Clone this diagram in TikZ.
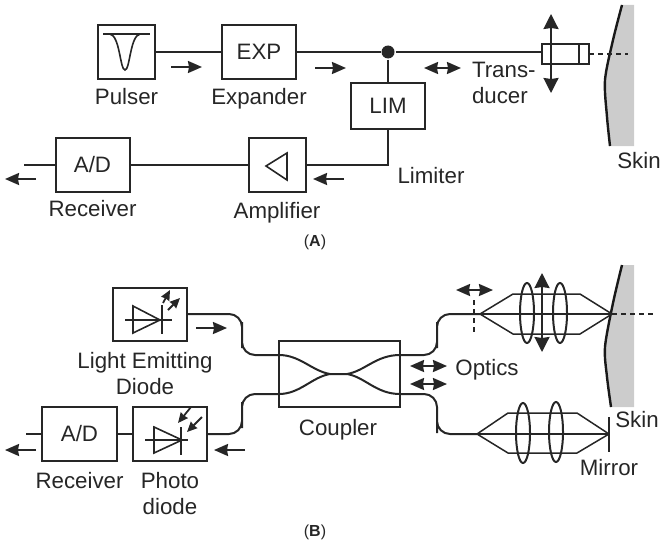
\documentclass[tikz,border=0pt]{standalone}
\usepackage{fontspec}
\setmainfont{Liberation Sans}
\usepackage{xcolor}
\usepackage{tikz}
\usetikzlibrary{arrows.meta,positioning,calc,shapes.geometric}

\begin{document}
\begin{tikzpicture}[
  x=1pt,y=-1pt,
  line width=2pt,
  color=black!85,
  font=\fontsize{22.3}{26}\selectfont,
  lab/.style={align=center,inner sep=0pt,outer sep=0pt},
  box/.style={draw,inner sep=0pt,outer sep=0pt,align=center,minimum width=74pt,minimum height=53pt},
  sbox/.style={box,minimum width=57pt},
  arr/.style={-{Stealth[length=14pt,width=12pt,inset=1pt]},line width=2pt},
  darr/.style={{Stealth[length=14pt,width=12pt,inset=1pt]}-{Stealth[length=14pt,width=12pt,inset=1pt]},line width=2pt},
  bigarr/.style={{Stealth[length=15pt,width=15pt,inset=1pt]}-{Stealth[length=15pt,width=15pt,inset=1pt]},line width=2pt},
  tinyarr/.style={-{Stealth[length=10pt,width=9pt,inset=0.5pt]},line width=1.8pt},
  fibre/.style={rounded corners=13pt},
  ray/.style={line width=1.5pt},
  lens/.style={draw,ellipse,inner sep=0pt,outer sep=0pt,minimum width=14pt,minimum height=60pt},
  skinfill/.style={fill=black!20,draw=none},
  skinline/.style={line width=2.4pt,black!90},
  dots/.style={dash pattern=on 5pt off 4pt,line width=1.5pt}
]
\useasboundingbox (0,0) rectangle (660,543);

% panel A
\node[sbox] (pulser) at (126.5,52) {};
\node[box] (expbox) at (259,52) {EXP};
\node[box,minimum height=46pt] (lim) at (388,106) {LIM};
\node[sbox,minimum height=54pt] (amp) at (277,165) {};
\node[box,minimum height=54pt] (adA) at (92.5,165) {A/D};
\node[fill,circle,inner sep=0pt,minimum size=13pt] (junc) at (388,52) {};
\node[draw,inner sep=0pt,outer sep=0pt,minimum width=47pt,minimum height=20pt] (trans) at (565.5,54) {};
\coordinate (tin) at (542,52);
\coordinate (adAend) at (24,165);
\coordinate (limturn) at (388,165);
\coordinate (tipA) at (628,54);

\node[lab,below=10pt of pulser] {Pulser};
\node[lab,below=10pt of expbox] {Expander};
\node[lab,below=8pt of adA] {Receiver};
\node[lab,below=10pt of amp] {Amplifier};
\node[lab,align=left,anchor=north west] (transtxt) at (472,62) {Trans-\\ducer};
\node[lab] (limtxt) at (431,176) {Limiter};
\node[lab] (skinA) at (639,161) {Skin};
\node[lab,font=\fontsize{16}{20}\selectfont] (capA) at (315,242) {(\textbf{A})};

\draw (pulser) -- (expbox);
\draw (expbox) -- (junc) -- (tin);
\draw (junc) -- (lim);
\draw (lim) -- (limturn) -- (amp);
\draw (amp) -- (adA);
\draw (adA) -- (adAend);
\draw[line width=1.6pt] (103,34) -- (150,34);
\draw[line width=1.6pt] (110,34) .. controls (120,36) and (120,70) .. (125,70) .. controls (130,70) and (130,36) .. (140,34);
\draw[line width=1.6pt] (266,166) -- (287,153) -- (287,180) -- cycle;
\draw (579,44) -- (579,64);
\coordinate (tup) at (551,14);
\coordinate (tdn) at (551,93);
\draw[bigarr] (tup) -- (tdn);

\fill[skinfill] (622,5) -- (634,5) -- (634,146) -- (609,146) -- (607,117) -- (605,80) -- (613,40) -- cycle;
\draw[skinline] plot[smooth] coordinates {(622,5) (613,40) (605,80) (607,117) (610,146)};
\draw[dots] (trans.east) -- (tipA);

\coordinate (f1) at (171,67); \coordinate (f2) at (202,67);
\coordinate (f3) at (315,68); \coordinate (f4) at (346,68);
\coordinate (f5) at (424,68); \coordinate (f6) at (461,68);
\coordinate (f7) at (36,179); \coordinate (f8) at (5,179);
\coordinate (f9) at (344,179); \coordinate (f10) at (313,179);
\draw[arr] (f1) -- (f2);
\draw[arr] (f3) -- (f4);
\draw[darr] (f5) -- (f6);
\draw[arr] (f7) -- (f8);
\draw[arr] (f9) -- (f10);

% panel B
\node[box] (led) at (150,314) {};
\node[box,minimum width=121pt,minimum height=66pt] (coupler) at (339.5,374) {};
\node[box,minimum width=75pt,minimum height=54pt] (adB) at (79.5,434) {A/D};
\node[box,minimum height=54pt] (photo) at (170,434) {};
\coordinate (adBend) at (26,434);

\node[lab] (ledtxt) at (145,374) {Light Emitting\\Diode};
\node[lab] (coupltxt) at (338,430) {Coupler};
\node[lab,below=11pt of adB] {Receiver};
\node[lab,below=11pt of photo] {Photo\\diode};
\node[lab] (opttxt) at (487,370) {Optics};
\node[lab] (skinB) at (637,420) {Skin};
\node[lab] (mirrtxt) at (609,468) {Mirror};
\node[lab,font=\fontsize{16}{20}\selectfont] (capB) at (315,532) {(\textbf{B})};

\draw (adB) -- (adBend);
\draw (adB) -- (photo);

% diodes
\draw[line width=1.6pt] (133,306) -- (133,333) -- (160,320) -- cycle;
\draw[line width=1.6pt] (125,320) -- (172,320);
\draw (162,305) -- (162,334);
\draw[tinyarr] (163,303) -- (170,290);
\draw[tinyarr] (168,310) -- (180,298);
\draw[line width=1.6pt] (154,427) -- (154,453) -- (182,440) -- cycle;
\draw[line width=1.6pt] (145,440) -- (188,440);
\draw (181,427) -- (181,455);
\draw[tinyarr] (191,407) -- (178,423);
\draw[tinyarr] (202,417) -- (187,432);

% fibres
\coordinate (c1) at (279,355); \coordinate (c2) at (279,394);
\coordinate (c3) at (400,355); \coordinate (c4) at (400,394);
\coordinate (src1) at (480,314); \coordinate (src2) at (477,434);
\draw[fibre] (led.east) -| (242,335) |- (c1);
\draw[fibre] (photo.east) -| (242,415) |- (c2);
\draw[fibre] (c3) -| (437,335) |- (src1);
\draw[fibre] (c4) -| (437,420) |- (src2);
\draw (c1) .. controls (300,355) and (312,371) .. (330,374) -- (347,374) .. controls (365,371) and (376,355) .. (c3);
\draw (c2) .. controls (300,394) and (312,377) .. (330,374);
\draw (347,374) .. controls (365,377) and (376,394) .. (c4);

% upper optics
\fill[skinfill] (622,265) -- (634,265) -- (634,407) -- (610,407) -- (607,377) -- (605,347) -- (613,303) -- cycle;
\draw[skinline] plot[smooth] coordinates {(622,265) (613,303) (605,347) (607,377) (611,407)};
\coordinate (foc1) at (612,314);
\coordinate (tipB) at (655,314);
\node[lens] (l1) at (527,313) {};
\node[lens] (l2) at (560,313) {};
\draw[ray] (src1) -- (foc1);
\draw[ray] (src1) -- (513,294) -- (580,294) -- (foc1);
\draw[ray] (src1) -- (513,334) -- (580,334) -- (foc1);
\draw[dots] (foc1) -- (tipB);
\draw[bigarr] (542,273) -- (542,352);
\draw[dots,line width=2pt] (474,300) -- (474,332);
\draw[darr] (456,290) -- (493,290);

% lower optics
\coordinate (foc2) at (609,434);
\node[lens] (l3) at (523,433) {};
\node[lens] (l4) at (556,432) {};
\draw[ray] (src2) -- (foc2);
\draw[ray] (src2) -- (508,413) -- (577,413) -- (foc2);
\draw[ray] (src2) -- (508,453) -- (577,453) -- (foc2);
\draw (609,417) -- (609,452);

\coordinate (g1) at (196,328); \coordinate (g2) at (227,328);
\coordinate (g3) at (245,450); \coordinate (g4) at (214,450);
\coordinate (g5) at (36,450); \coordinate (g6) at (5,450);
\coordinate (g7) at (410,366); \coordinate (g8) at (447,366);
\coordinate (g9) at (410,384); \coordinate (g10) at (447,384);
\draw[arr] (g1) -- (g2);
\draw[arr] (g3) -- (g4);
\draw[arr] (g5) -- (g6);
\draw[darr] (g7) -- (g8);
\draw[darr] (g9) -- (g10);
\end{tikzpicture}
\end{document}
